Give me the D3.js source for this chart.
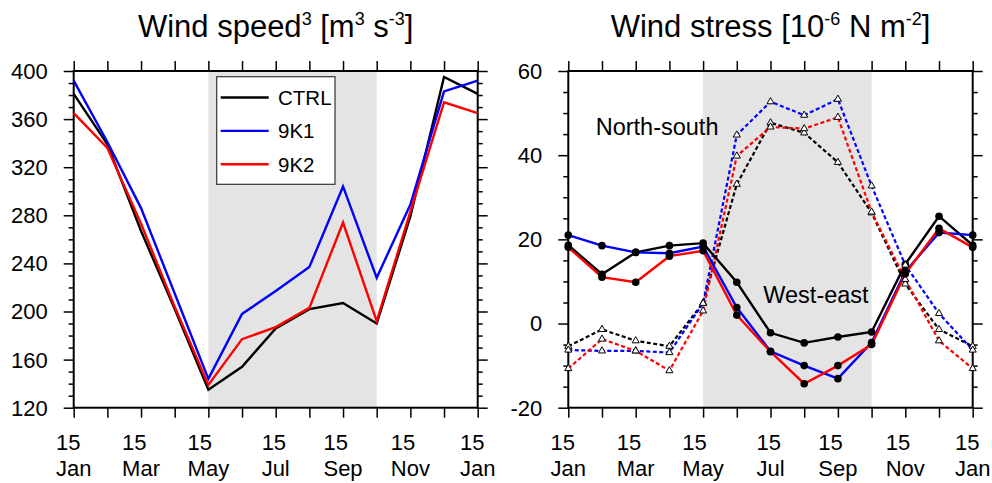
<!DOCTYPE html>
<html>
<head>
<meta charset="utf-8">
<script src="https://cdnjs.cloudflare.com/ajax/libs/d3/7.8.5/d3.min.js"></script>
<style>
body { margin: 0; background: #fff; }
svg { display: block; font-family: "Liberation Sans", Arial, Helvetica, sans-serif; }
</style>
</head>
<body>
<svg width="992" height="483"></svg>
<script>
// months, 15th of each, Jan to Jan
var months = ["Jan","Feb","Mar","Apr","May","Jun","Jul","Aug","Sep","Oct","Nov","Dec","Jan"];
var labelMonths = [0, 2, 4, 6, 8, 10, 12];
var shadeMonths = [4, 9];

// wind speed cubed
var speedCTRL = [381, 339, 267, 202, 135, 154, 186, 202, 207, 190, 279, 395, 381];
var speed9K1  = [392, 341, 286, 215, 144, 198, 217, 237, 304, 228, 289, 383, 392];
var speed9K2  = [365, 336, 273, 204, 139, 177, 187, 203, 274, 192, 283, 374, 365];
var speedTicks = [120, 160, 200, 240, 280, 320, 360, 400];

// wind stress, west-east (solid) and north-south (dotted)
var weCTRL = [18.6, 11.7, 16.9, 18.5, 19.1, 9.8, -2.2, -4.6, -3.2, -2.0, 14.1, 25.5, 18.6];
var we9K1  = [21.0, 18.5, 16.9, 16.7, 18.3, 3.8, -6.6, -10.0, -13.1, -4.5, 12.3, 21.6, 21.0];
var we9K2  = [18.1, 11.0, 9.8, 16.0, 17.3, 2.0, -6.7, -14.3, -10.0, -5.0, 11.8, 22.6, 18.1];
var nsCTRL = [-5.4, -1.4, -4.1, -5.4, 4.9, 33.1, 47.7, 45.3, 38.3, 26.3, 9.4, -1.4, -5.4];
var ns9K1  = [-6.3, -6.5, -6.5, -6.9, 4.8, 44.8, 52.7, 49.5, 53.3, 32.7, 13.9, 2.4, -6.3];
var ns9K2  = [-10.7, -3.7, -6.5, -11.2, 3.0, 39.8, 46.7, 46.3, 49.0, 26.5, 10.5, -4.1, -10.7];
var stressTicks = [-20, 0, 20, 40, 60];

var runs = ["CTRL", "9K1", "9K2"];
var colors = {CTRL: "#000", "9K1": "#0000ff", "9K2": "#ff0000"};

var svg = d3.select("svg");
var plotTop = 71, plotBottom = 407.7;

function panel(x0, x1, yDomain, majors, minorStep) {
  var g = svg.append("g");
  var x = d3.scaleLinear().domain([0, 12]).range([x0, x1]);
  var y = d3.scaleLinear().domain(yDomain).range([plotBottom, plotTop]);
  var minors = d3.range(yDomain[0], yDomain[1] + 0.001, minorStep)
    .filter(function(v) { return majors.indexOf(v) < 0; });

  //shaded season
  g.append("rect")
    .attr("x", x(shadeMonths[0])).attr("y", plotTop)
    .attr("width", x(shadeMonths[1]) - x(shadeMonths[0]))
    .attr("height", plotBottom - plotTop)
    .attr("fill", "#e4e4e4");

  var axes = g.append("g").attr("class", "axes");
  var idx = d3.range(13);
  axes.append("g").attr("transform", "translate(0," + plotBottom + ")")
    .call(d3.axisBottom(x).tickValues(idx).tickSize(10).tickSizeOuter(0).tickFormat(""));
  axes.append("g").attr("transform", "translate(0," + plotTop + ")")
    .call(d3.axisTop(x).tickValues(idx).tickSize(10).tickSizeOuter(0).tickFormat(""));
  axes.append("g").attr("transform", "translate(" + x0 + ",0)")
    .call(d3.axisLeft(y).tickValues(majors).tickSize(10).tickSizeOuter(0).tickFormat(""));
  axes.append("g").attr("transform", "translate(" + x1 + ",0)")
    .call(d3.axisRight(y).tickValues(majors).tickSize(10).tickSizeOuter(0).tickFormat(""));
  axes.append("g").attr("transform", "translate(" + x0 + ",0)")
    .call(d3.axisLeft(y).tickValues(minors).tickSize(5).tickSizeOuter(0).tickFormat(""));
  axes.append("g").attr("transform", "translate(" + x1 + ",0)")
    .call(d3.axisRight(y).tickValues(minors).tickSize(5).tickSizeOuter(0).tickFormat(""));
  axes.selectAll(".tick line").attr("stroke", "#000").attr("stroke-width", 1.5);
  axes.selectAll(".domain").remove();

  //frame
  g.append("rect")
    .attr("x", x0).attr("y", plotTop)
    .attr("width", x1 - x0).attr("height", plotBottom - plotTop)
    .attr("fill", "none").attr("stroke", "#000").attr("stroke-width", 2);

  //y labels
  g.selectAll(".ylab").data(majors).enter().append("text")
    .attr("x", x0 - 26).attr("y", function(d) { return y(d); })
    .attr("dy", "0.36em").attr("text-anchor", "end")
    .attr("font-size", 22).text(function(d) { return d; });

  //x labels, two lines, left aligned, block centred on tick
  labelMonths.forEach(function(m) {
    var t = g.append("text").attr("font-size", 22);
    var a = t.append("tspan").attr("y", 450).text("15");
    var b = t.append("tspan").attr("y", 476).text(months[m]);
    var w = Math.max(a.node().getComputedTextLength(), b.node().getComputedTextLength());
    a.attr("x", x(m) - w / 2);
    b.attr("x", x(m) - w / 2);
  });

  return {g: g, x: x, y: y};
}

function title(cx, parts) {
  var t = svg.append("text").attr("y", 37).attr("font-size", 31).attr("text-anchor", "middle");
  parts.forEach(function(p) {
    var s = t.append("tspan").text(p[0]);
    if (p[1]) s.attr("font-size", 18).attr("dy", -12);
    else if (p[2]) s.attr("dy", 12);
  });
  t.attr("x", cx);
}

//Left panel: wind speed cubed
var L = panel(73.7, 477.7, [120, 400], speedTicks, 10);
var speedData = {CTRL: speedCTRL, "9K1": speed9K1, "9K2": speed9K2};
var lineL = d3.line().x(function(d, i) { return L.x(i); }).y(function(d) { return L.y(d); });
runs.forEach(function(r) {
  L.g.append("path").attr("d", lineL(speedData[r]))
    .attr("fill", "none").attr("stroke", colors[r]).attr("stroke-width", 2.4);
});

//legend
var leg = L.g.append("g");
leg.append("rect").attr("x", 216.7).attr("y", 76.7).attr("width", 118.3).attr("height", 107.6)
  .attr("fill", "#fff").attr("stroke", "#333").attr("stroke-width", 1.2);
runs.forEach(function(r, i) {
  var yy = 97.5 + i * 33.4;
  leg.append("line").attr("x1", 220.7).attr("x2", 268.7).attr("y1", yy).attr("y2", yy)
    .attr("stroke", colors[r]).attr("stroke-width", 2.4);
  leg.append("text").attr("x", 278).attr("y", yy).attr("dy", "0.36em")
    .attr("font-size", 20.5).text(r);
});

title(275.7, [["Wind speed"], ["3", 1], [" [m", 0, 1], ["3", 1], [" s", 0, 1], ["-3", 1], ["]", 0, 1]]);

//Right panel: wind stress
var R = panel(568.3, 972.7, [-20, 60], stressTicks, 5);
var weData = {CTRL: weCTRL, "9K1": we9K1, "9K2": we9K2};
var nsData = {CTRL: nsCTRL, "9K1": ns9K1, "9K2": ns9K2};
var lineR = d3.line().x(function(d, i) { return R.x(i); }).y(function(d) { return R.y(d); });

runs.forEach(function(r) {
  R.g.append("path").attr("d", lineR(nsData[r]))
    .attr("fill", "none").attr("stroke", colors[r]).attr("stroke-width", 2.2)
    .attr("stroke-dasharray", "4,2.5");
});
runs.forEach(function(r) {
  R.g.append("path").attr("d", lineR(weData[r]))
    .attr("fill", "none").attr("stroke", colors[r]).attr("stroke-width", 2.4);
});
var tri = d3.symbol().type(d3.symbolTriangle).size(22);
runs.forEach(function(r) {
  R.g.selectAll(".tri" + r).data(nsData[r]).enter().append("path")
    .attr("d", tri)
    .attr("transform", function(d, i) { return "translate(" + R.x(i) + "," + R.y(d) + ")"; })
    .attr("fill", "#fff").attr("stroke", "#000").attr("stroke-width", 1);
  R.g.selectAll(".dot" + r).data(weData[r]).enter().append("circle")
    .attr("cx", function(d, i) { return R.x(i); })
    .attr("cy", function(d) { return R.y(d); })
    .attr("r", 3.8).attr("fill", "#000");
});

R.g.append("text").attr("x", 595.7).attr("y", 135).attr("font-size", 23.5).text("North-south");
R.g.append("text").attr("x", 763.3).attr("y", 303.3).attr("font-size", 23.5).text("West-east");

title(770.5, [["Wind stress [10"], ["-6", 1], [" N m", 0, 1], ["-2", 1], ["]", 0, 1]]);
</script>
</body>
</html>
